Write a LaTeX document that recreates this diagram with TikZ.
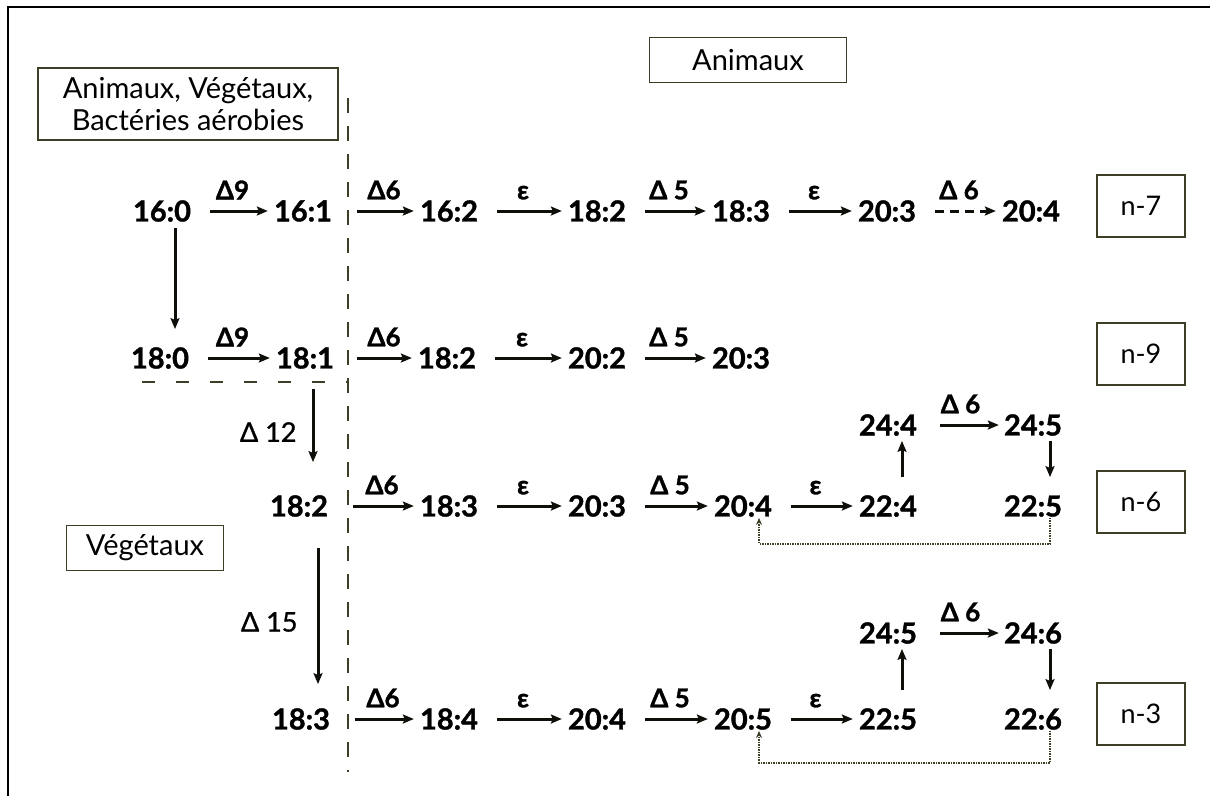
\documentclass[tikz,border=0pt]{standalone}
\usepackage{fontspec}
\setmainfont{Lato}
\newfontfamily\numfont[BoldFeatures={FakeBold=1.2}]{Lato}
\newfontfamily\medfont[FakeBold=1.0]{Lato}
\usetikzlibrary{arrows.meta}
\definecolor{dashcol}{RGB}{62,62,38}
\definecolor{linecol}{RGB}{15,15,10}
\begin{document}
\begin{tikzpicture}[x=1pt,y=-1pt,
  num/.style={font=\fontsize{29}{32}\selectfont\numfont\bfseries, inner sep=1pt, text=black},
  lab/.style={font=\fontsize{26}{28}\selectfont\numfont\bfseries, inner sep=1pt, text=black},
  vlab/.style={font=\fontsize{27}{28}\selectfont\medfont, inner sep=1pt, text=black},
  boxn/.style={draw=dashcol, line width=1.8pt, fill=white, font=\fontsize{29}{32}\selectfont, align=center, inner sep=2pt},
  nbox/.style={boxn, minimum width=88pt, minimum height=62pt, font=\fontsize{27}{30}\selectfont},
  arr/.style={-{Stealth[length=11pt,width=9pt,inset=2pt]}, line width=3pt, draw=linecol},
  harr/.style={arr, shorten <=18pt, shorten >=5pt},
  darr/.style={harr, dash pattern=on 9pt off 6pt},
  fb/.style={-{Stealth[length=7pt,width=6pt]}, line width=1.5pt, draw=dashcol, dash pattern=on 1.5pt off 1pt},
  vdash/.style={draw=dashcol, line width=2.2pt, dash pattern=on 15pt off 13pt},
  hdash/.style={draw=dashcol, line width=2.2pt, dash pattern=on 13pt off 21pt}
]
\useasboundingbox (0,0) rectangle (1210,796);
% frame
\draw[line width=2.2pt, black] (1210,7) -- (8,7) -- (8,796);

% boxes
\node[boxn, minimum width=300pt, minimum height=72pt] (bigbox) at (188,104) {Animaux, Végétaux,\\Bactéries aérobies};
\node[boxn, minimum width=197pt, minimum height=45pt] (anibox) at (748,60) {Animaux};
\node[boxn, minimum width=157pt, minimum height=45pt] (vegbox) at (145,548) {Végétaux};
\node[nbox] (b7) at (1141,206) {n-7};
\node[nbox] (b9) at (1141,354) {n-9};
\node[nbox] (b6) at (1141,502) {n-6};
\node[nbox] (b3) at (1141,714) {n-3};

% dashed separators
\draw[vdash] (348,98) -- (348,772);
\draw[hdash] (142,382) -- (348,382);

% row 1
\node[num] (n160) at (162,211) {16:0};
\node[num] (n161) at (303,211) {16:1};
\node[num] (r1a) at (449,211) {16:2};
\node[num] (r1b) at (597,211) {18:2};
\node[num] (r1c) at (741,211) {18:3};
\node[num] (r1d) at (887,211) {20:3};
\node[num] (r1e) at (1031,211) {20:4};
% row 2
\node[num] (n180) at (160,358) {18:0};
\node[num] (n181) at (305,358) {18:1};
\node[num] (r2a) at (447,358) {18:2};
\node[num] (r2b) at (597,358) {20:2};
\node[num] (r2c) at (741,358) {20:3};
% row 3
\node[num] (n182) at (299,506) {18:2};
\node[num] (r3a) at (449,506) {18:3};
\node[num] (r3b) at (597,506) {20:3};
\node[num] (r3c) at (743,506) {20:4};
\node[num] (r3d) at (888,506) {22:4};
\node[num] (r3e) at (1033,506) {22:5};
\node[num] (r3u) at (888,425) {24:4};
\node[num] (r3v) at (1033,425) {24:5};
% row 4
\node[num] (n183) at (301,719) {18:3};
\node[num] (r4a) at (449,719) {18:4};
\node[num] (r4b) at (597,719) {20:4};
\node[num] (r4c) at (743,719) {20:5};
\node[num] (r4d) at (888,719) {22:5};
\node[num] (r4e) at (1033,719) {22:6};
\node[num] (r4u) at (888,633) {24:5};
\node[num] (r4v) at (1033,633) {24:6};

% row 1 arrows
\draw[harr] (n160) -- node[lab, above=9pt] {Δ9} (n161);
\draw[harr, shorten <=24pt] (n161) -- node[lab, above=9pt, xshift=8pt] {Δ6} (r1a);
\draw[harr] (r1a) -- node[lab, above=9pt] {ε} (r1b);
\draw[harr] (r1b) -- node[lab, above=9pt] {Δ 5} (r1c);
\draw[harr] (r1c) -- node[lab, above=9pt] {ε} (r1d);
\draw[darr] (r1d) -- node[lab, above=9pt] {Δ 6} (r1e);
% row 2 arrows
\draw[harr] (n180) -- node[lab, above=9pt] {Δ9} (n181);
\draw[harr, shorten <=22pt] (n181) -- node[lab, above=9pt, xshift=8pt] {Δ6} (r2a);
\draw[harr] (r2a) -- node[lab, above=9pt] {ε} (r2b);
\draw[harr] (r2b) -- node[lab, above=9pt] {Δ 5} (r2c);
% row 3 arrows
\draw[harr, shorten <=24pt] (n182) -- node[lab, above=9pt, xshift=8pt] {Δ6} (r3a);
\draw[harr] (r3a) -- node[lab, above=9pt] {ε} (r3b);
\draw[harr] (r3b) -- node[lab, above=9pt] {Δ 5} (r3c);
\draw[harr] (r3c) -- node[lab, above=9pt] {ε} (r3d);
\draw[arr, shorten <=22pt, shorten >=4pt] (r3u) -- node[lab, above=9pt] {Δ 6} (r3v);
\draw[arr, shorten <=17pt, shorten >=4pt] ([xshift=14pt]r3d.north) -- ([xshift=14pt]r3u.south);
\draw[arr, shorten <=4pt, shorten >=17pt] ([xshift=17pt]r3v.south) -- ([xshift=17pt]r3e.north);
\draw[fb] ([xshift=17pt]r3e.south) -- ++(0,26) -| ([xshift=16pt]r3c.south);
% row 4 arrows
\draw[harr, shorten <=24pt] (n183) -- node[lab, above=9pt, xshift=8pt] {Δ6} (r4a);
\draw[harr] (r4a) -- node[lab, above=9pt] {ε} (r4b);
\draw[harr] (r4b) -- node[lab, above=9pt] {Δ 5} (r4c);
\draw[harr] (r4c) -- node[lab, above=9pt] {ε} (r4d);
\draw[arr, shorten <=22pt, shorten >=4pt] (r4u) -- node[lab, above=9pt] {Δ 6} (r4v);
\draw[arr, shorten <=17pt, shorten >=4pt] ([xshift=14pt]r4d.north) -- ([xshift=14pt]r4u.south);
\draw[arr, shorten <=4pt, shorten >=17pt] ([xshift=17pt]r4v.south) -- ([xshift=17pt]r4e.north);
\draw[fb] ([xshift=17pt]r4e.south) -- ++(0,32) -| ([xshift=16pt]r4c.south);

% vertical arrows on the left
\draw[arr, shorten <=5pt, shorten >=17pt] ([xshift=13pt]n160.south) -- ([xshift=13pt]n160.south |- n180.north);
\draw[arr, shorten <=19pt, shorten >=32pt] ([xshift=8pt]n181.south) -- node[vlab, midway, left=14pt] {Δ 12} ([xshift=8pt]n181.south |- n182.north);
\draw[arr, shorten <=30pt, shorten >=23pt] ([xshift=19pt]n182.south) -- node[vlab, pos=0.55, left=18pt] {Δ 15} ([xshift=19pt]n182.south |- n183.north);
\end{tikzpicture}
\end{document}
